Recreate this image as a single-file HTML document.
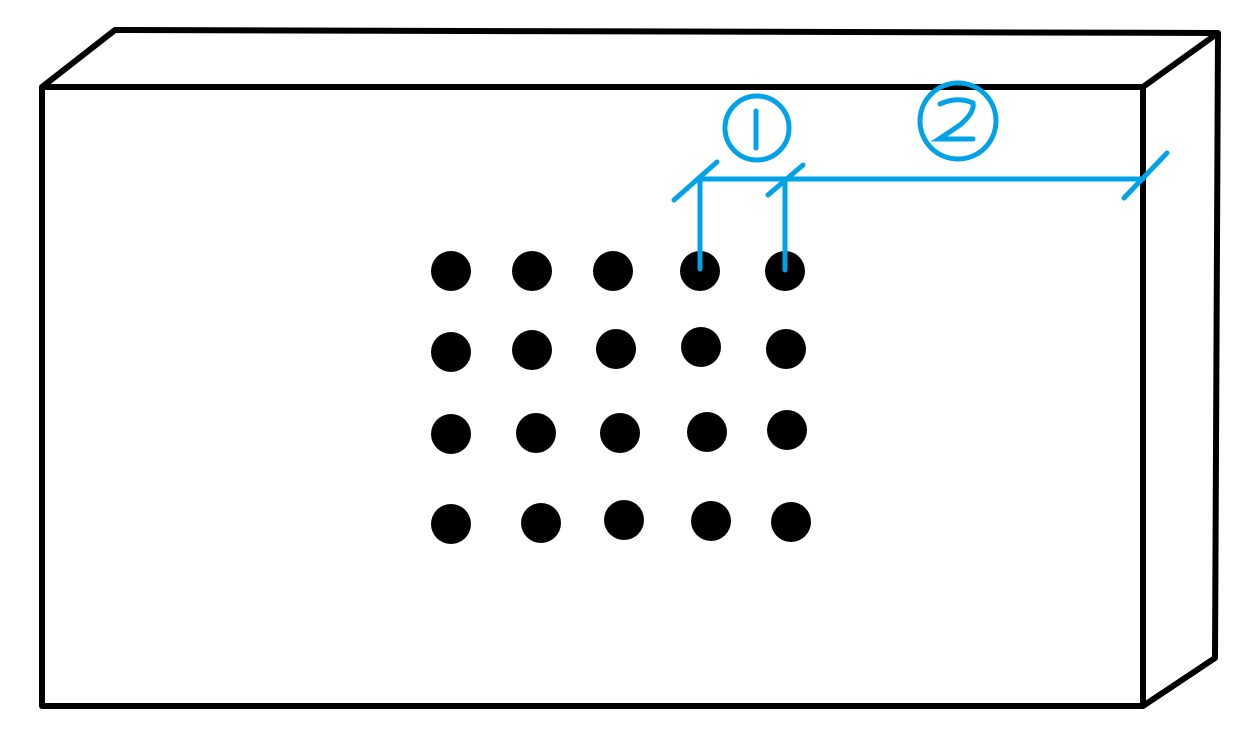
<!DOCTYPE html>
<html><head><style>html,body{margin:0;padding:0;background:#fff}svg{display:block}</style></head>
<body>
<svg width="1248" height="745" viewBox="0 0 1248 745" xmlns="http://www.w3.org/2000/svg">
<g fill="none" stroke="#000" stroke-width="6" stroke-linejoin="round">
<rect x="42" y="87" width="1101" height="619"/>
<polyline points="42,87 115,30 1218,33 1143,87"/>
<polyline points="1218,33 1215,658 1143,706"/>
</g>
<g fill="#000">
<circle cx="451" cy="271" r="20"/><circle cx="532" cy="271" r="20"/><circle cx="613" cy="271" r="20"/><circle cx="700" cy="271" r="20"/><circle cx="785" cy="271" r="20"/>
<circle cx="451" cy="352" r="20"/><circle cx="532" cy="350" r="20"/><circle cx="616" cy="349" r="20"/><circle cx="701" cy="347" r="20"/><circle cx="786" cy="349" r="20"/>
<circle cx="451" cy="434" r="20"/><circle cx="536" cy="433" r="20"/><circle cx="620" cy="433" r="20"/><circle cx="707" cy="432" r="20"/><circle cx="787" cy="430" r="20"/>
<circle cx="451" cy="524" r="20"/><circle cx="541" cy="523" r="20"/><circle cx="624" cy="520" r="20"/><circle cx="711" cy="521" r="20"/><circle cx="791" cy="522" r="20"/>
</g>
<g fill="none" stroke="#00a2e8" stroke-width="5" stroke-linecap="round">
<line x1="700" y1="179" x2="1143" y2="179"/>
<line x1="700" y1="179" x2="700" y2="269"/>
<line x1="785" y1="179" x2="785" y2="270"/>
<line x1="674" y1="200" x2="717" y2="162"/>
<line x1="768" y1="195" x2="803" y2="165"/>
<line x1="1124" y1="198" x2="1167" y2="153"/>
<circle cx="757" cy="128" r="32"/>
<circle cx="958" cy="121" r="38"/>
<line x1="756" y1="111" x2="756" y2="148"/>
<path d="M940 104 Q958 96 973 103 Q975 112 960 125 L939 139 L973 139"/>
</g>
</svg>
</body></html>
